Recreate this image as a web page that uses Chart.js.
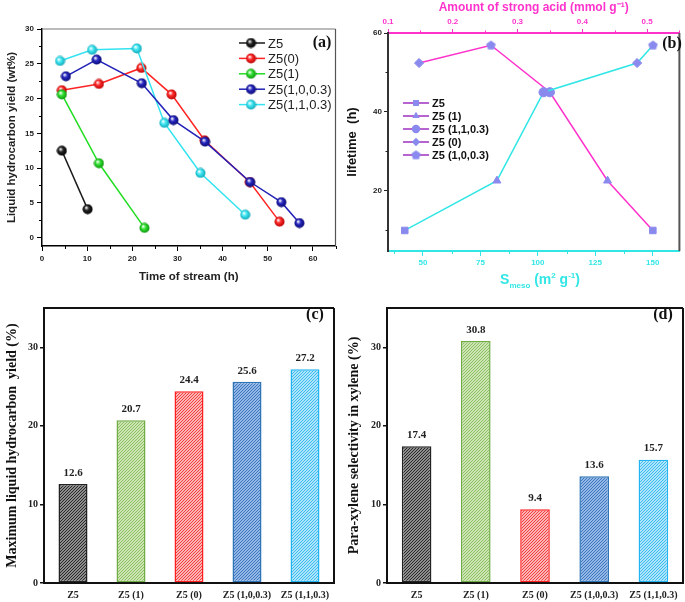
<!DOCTYPE html>
<html>
<head>
<meta charset="utf-8">
<script src="https://cdn.jsdelivr.net/npm/chart.js@4.4.1/dist/chart.umd.min.js"></script>
<style>
  body { margin: 0; background: #fff; }
  canvas { position: absolute; }
</style>
</head>
<body>
<canvas id="chartA" width="342" height="300" style="left:0;top:0"></canvas>
<canvas id="chartB" width="343" height="300" style="left:342px;top:0"></canvas>
<canvas id="chartC" width="342" height="302" style="left:0;top:300px"></canvas>
<canvas id="chartD" width="343" height="302" style="left:342px;top:300px"></canvas>
<script>
// (a) liquid hydrocarbon yield vs time on stream
const seriesNamesA = ['Z5', 'Z5(0)', 'Z5(1)', 'Z5(1,0,0.3)', 'Z5(1,1,0.3)'];
const timeZ5 = [4.4, 10.1];
const yieldZ5 = [12.5, 4.1];
const timeZ5_0 = [4.4, 12.6, 22.0, 28.7, 36.0, 46.0, 52.6];
const yieldZ5_0 = [21.2, 22.1, 24.4, 20.6, 14.0, 8.0, 2.3];
const timeZ5_1 = [4.4, 12.6, 22.7];
const yieldZ5_1 = [20.6, 10.7, 1.4];
const timeZ5_103 = [5.3, 12.1, 22.1, 29.1, 36.1, 46.1, 53.0, 57.0];
const yieldZ5_103 = [23.2, 25.6, 22.2, 16.9, 13.8, 8.0, 5.1, 2.1];
const timeZ5_113 = [4.0, 11.1, 21.0, 27.1, 35.1, 45.0];
const yieldZ5_113 = [25.4, 27.0, 27.2, 16.5, 9.3, 3.3];
const xTicksA = [0, 10, 20, 30, 40, 50, 60];
const yTicksA = [0, 5, 10, 15, 20, 25, 30];

// (b) catalyst lifetime vs mesopore area and strong acid amount
const samplesB = ['Z5', 'Z5 (1)', 'Z5 (1,1,0.3)', 'Z5 (0)', 'Z5 (1,0,0.3)'];
const lifetime = [10.0, 22.6, 45.0, 52.4, 56.9];
const sMeso = [42.1, 82.2, 102.5, 143.2, 150.1];
const strongAcid = [0.509, 0.439, 0.350, 0.148, 0.259];
const sMesoTicks = [50, 75, 100, 125, 150];
const acidTicks = [0.1, 0.2, 0.3, 0.4, 0.5];
const lifetimeTicks = [20, 40, 60];

// (c) and (d) bars
const barLabels = ['Z5', 'Z5 (1)', 'Z5 (0)', 'Z5 (1,0,0.3)', 'Z5 (1,1,0.3)'];
const maxYield = [12.6, 20.7, 24.4, 25.6, 27.2];
const pxSelectivity = [17.4, 30.8, 9.4, 13.6, 15.7];
const barTicks = [0, 10, 20, 30];

const SANS = '"Liberation Sans", Arial, sans-serif';
const SERIF = '"Liberation Serif", "Times New Roman", serif';
const CYAN = '#33e6e6';
const MAGENTA = '#ff33cc';
const LAVENDER = '#8a8aee';

// little shaded balls like the origin plot
function sphere(color, edge) {
    const c = document.createElement('canvas');
    c.width = c.height = 11;
    const g = c.getContext('2d');
    const grad = g.createRadialGradient(4, 3.8, 0.3, 5.5, 5.5, 5.5);
    grad.addColorStop(0, '#ffffff');
    grad.addColorStop(0.4, color);
    grad.addColorStop(1, edge);
    g.fillStyle = grad;
    g.beginPath();
    g.arc(5.5, 5.5, 5, 0, Math.PI * 2);
    g.fill();
    return c;
}

function pentagon(color) {
    const c = document.createElement('canvas');
    c.width = c.height = 11;
    const g = c.getContext('2d');
    g.fillStyle = color;
    g.beginPath();
    for (let k = 0; k < 5; k++) {
        const a = -Math.PI / 2 + k * 2 * Math.PI / 5;
        g.lineTo(5.5 + 5 * Math.cos(a), 5.8 + 5 * Math.sin(a));
    }
    g.closePath();
    g.fill();
    return c;
}

// fine diagonal hatch, 3px period
function hatch(base, line) {
    const c = document.createElement('canvas');
    c.width = c.height = 3;
    const g = c.getContext('2d');
    g.fillStyle = base;
    g.fillRect(0, 0, 3, 3);
    g.fillStyle = line;
    for (let i = 0; i < 3; i++) g.fillRect(i, 2 - i, 1, 1);
    return g.createPattern(c, 'repeat');
}

function minorTicks(chart, id, len, color, width) {
    const s = chart.scales[id], a = chart.chartArea, ctx = chart.ctx;
    const v = s.ticks.map(t => t.value);
    const step = v[1] - v[0];
    ctx.save();
    ctx.strokeStyle = color;
    ctx.lineWidth = width;
    ctx.beginPath();
    for (let m = v[0] - step / 2; m <= s.max + 1e-9; m += step) {
        if (m < s.min) continue;
        const p = Math.round(s.getPixelForValue(m)) + 0.5;
        if (s.position === 'left') { ctx.moveTo(a.left, p); ctx.lineTo(a.left - len, p); }
        else if (s.position === 'bottom') { ctx.moveTo(p, a.bottom); ctx.lineTo(p, a.bottom + len); }
        else if (s.position === 'top') { ctx.moveTo(p, a.top); ctx.lineTo(p, a.top - len); }
    }
    ctx.stroke();
    ctx.restore();
}

function edge(chart, side, color, width) {
    const a = chart.chartArea, ctx = chart.ctx;
    ctx.save();
    ctx.strokeStyle = color;
    ctx.lineWidth = width;
    ctx.beginPath();
    if (side === 'top') { ctx.moveTo(a.left, a.top); ctx.lineTo(a.right, a.top); }
    if (side === 'right') { ctx.moveTo(a.right, a.top); ctx.lineTo(a.right, a.bottom); }
    ctx.stroke();
    ctx.restore();
}

function tag(ctx, text, x, y) {
    ctx.save();
    ctx.font = 'bold 16px ' + SERIF;
    ctx.fillStyle = '#111';
    ctx.textAlign = 'center';
    ctx.textBaseline = 'middle';
    ctx.fillText(text, x, y);
    ctx.restore();
}

// ---------- (a) ----------
const timesA = [timeZ5, timeZ5_0, timeZ5_1, timeZ5_103, timeZ5_113];
const yieldsA = [yieldZ5, yieldZ5_0, yieldZ5_1, yieldZ5_103, yieldZ5_113];
const lineColorsA = ['#1a1a1a', '#ff2424', '#22dd22', '#2222b8', '#33e3f0'];
const ballA = [
    sphere('#222222', '#000000'),
    sphere('#ff2a2a', '#b00000'),
    sphere('#30e030', '#0a8a0a'),
    sphere('#2626c0', '#08086a'),
    sphere('#3ee6f2', '#10a0b0')
];
const drawOrderA = [5, 4, 3, 1, 2];

const tickFontA = { family: SANS, size: 8, weight: 'bold' };

new Chart(document.getElementById('chartA'), {
    type: 'line',
    data: {
        datasets: seriesNamesA.map((name, i) => ({
            label: name,
            data: timesA[i].map((t, k) => ({ x: t, y: yieldsA[i][k] })),
            borderColor: lineColorsA[i],
            borderWidth: 1.5,
            pointStyle: ballA[i],
            pointRadius: 5,
            tension: 0,
            order: drawOrderA[i]
        }))
    },
    options: {
        responsive: false,
        animation: false,
        devicePixelRatio: 1,
        layout: { padding: { top: 29, right: 6, left: 0, bottom: 0 } },
        plugins: { legend: { display: false }, tooltip: { enabled: false } },
        scales: {
            x: {
                type: 'linear',
                min: 0,
                max: 65,
                afterFit: s => { s.height = 54; },
                afterBuildTicks: s => { s.ticks = xTicksA.map(v => ({ value: v })); },
                grid: { drawOnChartArea: false, tickLength: 5, color: '#000' },
                border: { color: '#000', width: 1.5 },
                ticks: { padding: 3, autoSkip: false, maxRotation: 0, color: '#222', font: tickFontA },
                title: {
                    display: true, text: 'Time of stream (h)', color: '#222',
                    font: { family: SANS, size: 11.5, weight: 'bold' },
                    padding: { top: 0, bottom: 16 }
                }
            },
            y: {
                min: -1.2,
                max: 30,
                afterFit: s => { s.width = 42; },
                afterBuildTicks: s => { s.ticks = yTicksA.map(v => ({ value: v })); },
                grid: { drawOnChartArea: false, tickLength: 5, color: '#000' },
                border: { color: '#000', width: 1.5 },
                ticks: { padding: 3, autoSkip: false, color: '#222', font: tickFontA },
                title: {
                    display: true, text: 'Liquid hydrocarbon yield (wt%)', color: '#222',
                    font: { family: SANS, size: 11.5, weight: 'bold' },
                    padding: { top: 5, bottom: 0 }
                }
            }
        }
    },
    plugins: [{
        id: 'decorA',
        afterDraw(chart) {
            const ctx = chart.ctx;
            edge(chart, 'top', '#777', 1);
            edge(chart, 'right', '#555', 1.2);
            minorTicks(chart, 'x', 3, '#000', 1);
            minorTicks(chart, 'y', 3, '#000', 1);
            // legend
            ctx.save();
            ctx.font = '13px ' + SANS;
            ctx.textBaseline = 'middle';
            chart.data.datasets.forEach((ds, i) => {
                const y = 43 + i * 15.4;
                ctx.strokeStyle = ds.borderColor;
                ctx.lineWidth = 1.5;
                ctx.beginPath();
                ctx.moveTo(239, y);
                ctx.lineTo(265, y);
                ctx.stroke();
                ctx.drawImage(ballA[i], 251 - 5.5, y - 5.5);
                ctx.fillStyle = '#222';
                ctx.fillText(ds.label, 268, y + 1);
            });
            ctx.restore();
            tag(ctx, '(a)', 322, 43);
        }
    }]
});

// ---------- (b) ----------
const markersB = ['rect', 'triangle', 'circle', 'rectRot', pentagon(LAVENDER)];
const bySMeso = sMeso.map((v, i) => i).sort((a, b) => sMeso[a] - sMeso[b]);
const byAcid = strongAcid.map((v, i) => i).sort((a, b) => strongAcid[a] - strongAcid[b]);
const tickFontB = { family: SANS, size: 8, weight: 'bold' };

function drawSmeso(ctx, cx, cy) {
    const big = 'bold 14px ' + SANS, small = 'bold 8px ' + SANS;
    const parts = [['S', big, 0], ['meso', small, 4], [' (m', big, 0], ['2', small, -6],
                   [' g', big, 0], ['-1', small, -6], [')', big, 0]];
    ctx.save();
    ctx.fillStyle = CYAN;
    ctx.textBaseline = 'alphabetic';
    let total = 0;
    parts.forEach(p => { ctx.font = p[1]; total += ctx.measureText(p[0]).width; });
    let x = cx - total / 2;
    parts.forEach(p => {
        ctx.font = p[1];
        ctx.fillText(p[0], x, cy + 5 + p[2]);
        x += ctx.measureText(p[0]).width;
    });
    ctx.restore();
}

new Chart(document.getElementById('chartB'), {
    type: 'line',
    data: {
        datasets: [{
            label: 'S meso',
            xAxisID: 'x',
            yAxisID: 'y',
            data: bySMeso.map(i => ({ x: sMeso[i], y: lifetime[i] })),
            pointStyle: bySMeso.map(i => markersB[i]),
            borderColor: CYAN,
            borderWidth: 1.5,
            pointRadius: 4.6,
            pointBackgroundColor: LAVENDER,
            pointBorderColor: LAVENDER,
            pointBorderWidth: 1,
            tension: 0
        }, {
            label: 'Strong acid',
            xAxisID: 'x2',
            yAxisID: 'y',
            data: byAcid.map(i => ({ x: strongAcid[i], y: lifetime[i] })),
            pointStyle: byAcid.map(i => markersB[i]),
            borderColor: MAGENTA,
            borderWidth: 1.5,
            pointRadius: 4.6,
            pointBackgroundColor: LAVENDER,
            pointBorderColor: LAVENDER,
            pointBorderWidth: 1,
            tension: 0
        }]
    },
    options: {
        responsive: false,
        animation: false,
        devicePixelRatio: 1,
        layout: { padding: { top: 0, right: 3, left: 0, bottom: 0 } },
        plugins: { legend: { display: false }, tooltip: { enabled: false } },
        scales: {
            x: {
                type: 'linear',
                position: 'bottom',
                min: 34.8,
                max: 161.6,
                afterFit: s => { s.height = 49; },
                afterBuildTicks: s => { s.ticks = sMesoTicks.map(v => ({ value: v })); },
                grid: { drawOnChartArea: false, tickLength: 5, color: CYAN },
                border: { color: CYAN, width: 2 },
                ticks: { padding: 2, autoSkip: false, maxRotation: 0, color: CYAN, font: tickFontB }
            },
            x2: {
                type: 'linear',
                position: 'top',
                min: 0.1,
                max: 0.55,
                afterFit: s => { s.height = 33; },
                afterBuildTicks: s => { s.ticks = acidTicks.map(v => ({ value: v })); },
                grid: { drawOnChartArea: false, tickLength: 4, color: MAGENTA },
                border: { color: MAGENTA, width: 2 },
                ticks: { padding: 2, autoSkip: false, maxRotation: 0, color: MAGENTA, font: tickFontB },
                title: {
                    display: true, text: 'Amount of strong acid (mmol g\u207B\u00B9)', color: MAGENTA,
                    font: { family: SANS, size: 12, weight: 'bold' },
                    padding: { top: 0, bottom: 0 }
                }
            },
            y: {
                min: 4.8,
                max: 60,
                afterFit: s => { s.width = 46; },
                afterBuildTicks: s => { s.ticks = lifetimeTicks.map(v => ({ value: v })); },
                grid: { drawOnChartArea: false, tickLength: 4, color: '#222' },
                border: { color: '#333', width: 2 },
                ticks: { padding: 2, autoSkip: false, color: '#222', font: tickFontB },
                title: {
                    display: true, text: 'lifetime  (h)', color: '#111',
                    font: { family: SANS, size: 13, weight: 'bold' },
                    padding: { top: 3, bottom: 0 }
                }
            }
        }
    },
    plugins: [{
        id: 'decorB',
        afterDraw(chart) {
            const ctx = chart.ctx;
            edge(chart, 'right', '#555', 2);
            minorTicks(chart, 'x', 3, CYAN, 1);
            minorTicks(chart, 'x2', 2.5, MAGENTA, 1);
            minorTicks(chart, 'y', 2.5, '#222', 1);
            drawSmeso(ctx, 198, 279);
            // legend
            ctx.save();
            ctx.font = 'bold 11px ' + SANS;
            ctx.textBaseline = 'middle';
            samplesB.forEach((name, i) => {
                const y = 103 + i * 13;
                ctx.strokeStyle = '#a030c0';
                ctx.lineWidth = 1.5;
                ctx.beginPath();
                ctx.moveTo(61, y);
                ctx.lineTo(87, y);
                ctx.stroke();
                ctx.fillStyle = LAVENDER;
                ctx.strokeStyle = LAVENDER;
                Chart.helpers.drawPoint(ctx, { pointStyle: markersB[i], radius: 4.2, rotation: 0, borderWidth: 0 }, 74, y);
                ctx.fillStyle = '#111';
                ctx.fillText(name, 90, y + 1);
            });
            ctx.restore();
            tag(ctx, '(b)', 330, 44);
        }
    }]
});

// ---------- (c) and (d) ----------
const barFills = [
    hatch('#8c8c8c', '#2a2a2a'),
    hatch('#cde4b4', '#8cc060'),
    hatch('#fdb4b4', '#f04040'),
    hatch('#94b8e6', '#3f76c0'),
    hatch('#aee4fa', '#3cbcf0')
];
const barEdges = ['#222222', '#70ad47', '#ff2020', '#2e75b6', '#22b4f2'];

function barChart(canvasId, values, yTitle, label, labelX, padRight, yWidth) {
    new Chart(document.getElementById(canvasId), {
        type: 'bar',
        data: {
            labels: barLabels,
            datasets: [{
                data: values,
                backgroundColor: barFills,
                borderColor: barEdges,
                borderWidth: 1.5,
                borderSkipped: false,
                categoryPercentage: 0.5,
                barPercentage: 1
            }]
        },
        options: {
            responsive: false,
            animation: false,
            devicePixelRatio: 1,
            layout: { padding: { top: 2, right: padRight, left: 0, bottom: 0 } },
            plugins: { legend: { display: false }, tooltip: { enabled: false } },
            scales: {
                x: {
                    afterFit: s => { s.height = 19; },
                    grid: { drawOnChartArea: false, tickLength: 4, tickColor: 'rgba(0,0,0,0)' },
                    border: { color: '#111', width: 2 },
                    ticks: { padding: 2, autoSkip: false, maxRotation: 0, color: '#222',
                             font: { family: SERIF, size: 10, weight: 'bold' } }
                },
                y: {
                    min: 0,
                    max: 35,
                    afterFit: s => { s.width = yWidth; },
                    afterBuildTicks: s => { s.ticks = barTicks.map(v => ({ value: v })); },
                    grid: { drawOnChartArea: false, tickLength: 4, color: '#111', lineWidth: 1.5 },
                    border: { color: '#111', width: 2 },
                    ticks: { padding: 2, autoSkip: false, color: '#222',
                             font: { family: SERIF, size: 10, weight: 'bold' } },
                    title: {
                        display: true, text: yTitle, color: '#111',
                        font: { family: SERIF, size: 14, weight: 'bold' },
                        padding: { top: 4, bottom: 0 }
                    }
                }
            }
        },
        plugins: [{
            id: 'decorBar',
            afterDraw(chart) {
                const ctx = chart.ctx;
                edge(chart, 'top', '#111', 2);
                edge(chart, 'right', '#111', 2);
                ctx.save();
                ctx.font = 'bold 11px ' + SERIF;
                ctx.fillStyle = '#222';
                ctx.textAlign = 'center';
                ctx.textBaseline = 'middle';
                chart.getDatasetMeta(0).data.forEach((bar, i) => {
                    ctx.fillText(values[i].toFixed(1), bar.x, bar.y - 11);
                });
                ctx.restore();
                tag(ctx, label, labelX, 15);
            }
        }]
    });
}

barChart('chartC', maxYield, 'Maximum liquid hydrocarbon  yield (%)', '(c)', 315, 8, 44);
barChart('chartD', pxSelectivity, 'Para-xylene selectivity in xylene (%)', '(d)', 321, 2, 45);
</script>
</body>
</html>
